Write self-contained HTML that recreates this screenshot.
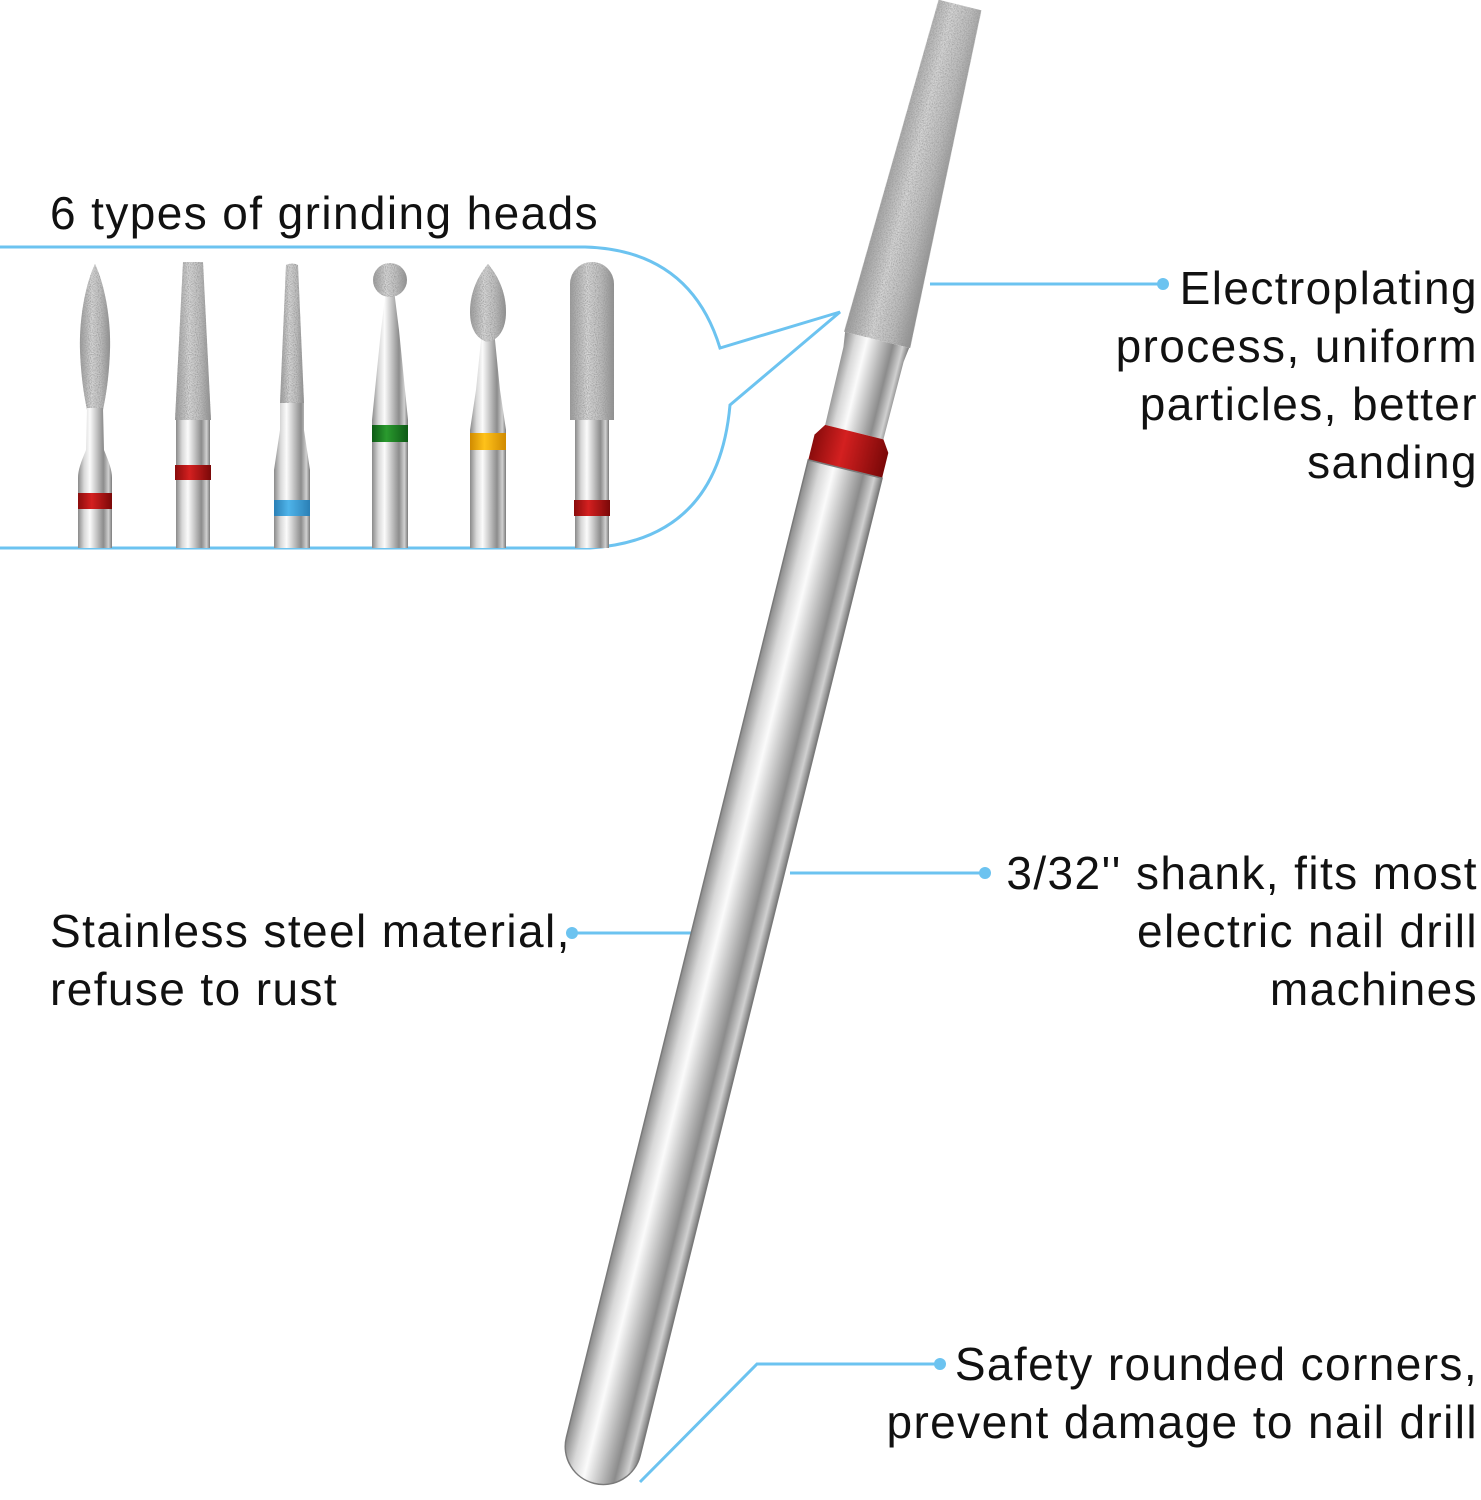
<!DOCTYPE html>
<html><head><meta charset="utf-8"><style>
html,body{margin:0;padding:0;background:#fff;}
body{width:1481px;height:1500px;position:relative;overflow:hidden;font-family:"Liberation Sans",sans-serif;color:#111;}
.t{position:absolute;font-size:46px;line-height:58px;white-space:nowrap;letter-spacing:1.4px}
.r{text-align:right;right:3px}
</style></head><body>
<svg width="1481" height="1500" style="position:absolute;left:0;top:0">
<defs>
<linearGradient id="sil" x1="0" x2="1" y1="0" y2="0">
<stop offset="0" stop-color="#8a8a8a"/><stop offset="0.18" stop-color="#d8d8d8"/><stop offset="0.35" stop-color="#fbfbfb"/><stop offset="0.55" stop-color="#c4c4c4"/><stop offset="0.75" stop-color="#8c8c8c"/><stop offset="0.9" stop-color="#d0d0d0"/><stop offset="1" stop-color="#7a7a7a"/>
</linearGradient>
<linearGradient id="dia" x1="0" x2="1" y1="0" y2="0">
<stop offset="0" stop-color="#9a9a9a"/><stop offset="0.4" stop-color="#d6d6d6"/><stop offset="0.7" stop-color="#bcbcbc"/><stop offset="1" stop-color="#8e8e8e"/>
</linearGradient>
<linearGradient id="red" x1="0" x2="1"><stop offset="0" stop-color="#8a0c0c"/><stop offset="0.4" stop-color="#d42020"/><stop offset="1" stop-color="#7a0808"/></linearGradient>
<linearGradient id="blu" x1="0" x2="1"><stop offset="0" stop-color="#2a7fb5"/><stop offset="0.4" stop-color="#4fb4ea"/><stop offset="1" stop-color="#2a7fb5"/></linearGradient>
<linearGradient id="grn" x1="0" x2="1"><stop offset="0" stop-color="#0e5a16"/><stop offset="0.4" stop-color="#2a9a2e"/><stop offset="1" stop-color="#0e5a16"/></linearGradient>
<linearGradient id="yel" x1="0" x2="1"><stop offset="0" stop-color="#d08a00"/><stop offset="0.4" stop-color="#ffc21a"/><stop offset="1" stop-color="#d08a00"/></linearGradient>
<filter id="spk" x="0" y="0" width="1" height="1">
<feTurbulence type="fractalNoise" baseFrequency="0.9" numOctaves="1" seed="3" result="n"/>
<feColorMatrix in="n" type="matrix" values="0 0 0 0 0.3  0 0 0 0 0.3  0 0 0 0 0.3  0 0 0 -2.2 1.35" result="d"/>
<feComposite in="d" in2="SourceGraphic" operator="in" result="dd"/>
<feMerge><feMergeNode in="SourceGraphic"/><feMergeNode in="dd"/></feMerge>
</filter>
</defs>

<g stroke="#6cc3f0" stroke-width="3" fill="none">
<path d="M0,247 H585 Q690,250 720,348 L840,312 L730,405 Q718,540 590,548 H0"/>
<line x1="930" y1="284" x2="1163" y2="284"/>
<line x1="790" y1="873" x2="985" y2="873"/>
<line x1="572" y1="933" x2="694" y2="933"/>
<polyline points="940,1364 757,1364 640,1482"/>
</g>
<g fill="#6cc3f0">
<circle cx="1163" cy="284" r="6"/><circle cx="985" cy="873" r="6"/><circle cx="572" cy="933" r="6"/><circle cx="940" cy="1364" r="6"/>
</g>

<g transform="translate(960,5) rotate(13.9)">
<path d="M-22,0 L22,0 L34,345 L-34,345 Z" fill="url(#dia)" filter="url(#spk)"/>
<path d="M-33,345 L33,345 L31,360 L30,440 L-30,440 L-31,360 Z" fill="url(#sil)"/>
<path d="M-30,440 L30,440 L38,452 L38,478 L-38,478 L-38,452 Z" fill="url(#red)"/>
<path d="M-38,478 L38,478 L38,1485 A38,38 0 0 1 -38,1485 Z" fill="url(#sil)"/>
<path d="M-38,478 L38,478 L38,1485 A38,38 0 0 1 -38,1485 Z" fill="none" stroke="#7a7a7a" stroke-width="1.5"/>
</g>

<g transform="translate(95,0)">
<path d="M0,264 C-10,285 -16,320 -15,350 C-14,380 -10,400 -8,410 L8,410 C10,400 14,380 15,350 C16,320 10,285 0,264Z" fill="url(#dia)" filter="url(#spk)"/>
<path d="M-8,408 L8,408 L9,450 C14,462 17,470 17,478 L17,548 L-17,548 L-17,478 C-17,470 -14,462 -9,450 Z" fill="url(#sil)"/>
<rect x="-17" y="493" width="34" height="16" fill="url(#red)"/>
</g>
<g transform="translate(193,0)">
<path d="M-10,262 L10,262 L18,420 L-18,420 Z" fill="url(#dia)" filter="url(#spk)"/>
<path d="M-17,420 L17,420 L17,548 L-17,548 Z" fill="url(#sil)"/>
<rect x="-18" y="465" width="36" height="15" fill="url(#red)"/>
</g>
<g transform="translate(292,0)">
<path d="M-6,265 Q0,262 6,265 L12,403 L-12,403 Z" fill="url(#dia)" filter="url(#spk)"/>
<path d="M-12,403 L12,403 L12,430 L18,470 L18,548 L-18,548 L-18,470 L-12,430 Z" fill="url(#sil)"/>
<rect x="-18" y="500" width="36" height="16" fill="url(#blu)"/>
</g>
<g transform="translate(390,0)">
<path d="M-4,290 L4,290 L9,330 L16,400 L18,420 L18,548 L-18,548 L-18,420 L-16,400 L-9,330 Z" fill="url(#sil)"/>
<circle cx="0" cy="280" r="17" fill="url(#dia)" filter="url(#spk)"/>
<rect x="-18" y="425" width="36" height="17" fill="url(#grn)"/>
</g>
<g transform="translate(488,0)">
<path d="M-6,330 L6,330 L12,390 L18,430 L18,548 L-18,548 L-18,430 L-12,390 Z" fill="url(#sil)"/>
<path d="M0,264 C-12,278 -18,295 -18,312 C-18,330 -10,340 0,342 C10,340 18,330 18,312 C18,295 12,278 0,264Z" fill="url(#dia)" filter="url(#spk)"/>
<rect x="-18" y="433" width="36" height="17" fill="url(#yel)"/>
</g>
<g transform="translate(592,0)">
<path d="M-22,284 A22,22 0 0 1 22,284 L22,420 L-22,420 Z" fill="url(#dia)" filter="url(#spk)"/>
<path d="M-17,420 L17,420 L17,548 L-17,548 Z" fill="url(#sil)"/>
<rect x="-18" y="500" width="36" height="16" fill="url(#red)"/>
</g>
</svg>

<div class="t" style="left:50px;top:184px">6 types of grinding heads</div>
<div class="t r" style="top:259px">Electroplating<br>process, uniform<br>particles, better<br>sanding</div>
<div class="t r" style="top:844px">3/32'' shank, fits most<br>electric nail drill<br>machines</div>
<div class="t" style="left:50px;top:902px">Stainless steel material,<br>refuse to rust</div>
<div class="t r" style="top:1335px">Safety rounded corners,<br>prevent damage to nail drill</div>
</body></html>
